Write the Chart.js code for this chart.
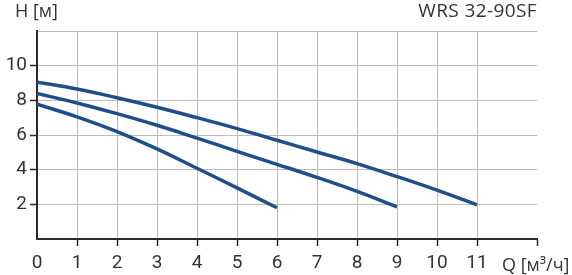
<!DOCTYPE html>
<html>
<head>
<meta charset="utf-8">
<script src="https://cdn.jsdelivr.net/npm/chart.js@4/dist/chart.umd.min.js"></script>
<style>
  html, body { margin: 0; padding: 0; background: #fff; }
  #wrap { width: 572px; height: 275px; }
</style>
</head>
<body>
<div id="wrap"><canvas id="pump-chart" width="572" height="275"></canvas></div>
<script>
// pump curves
const flow_top = [0, 1, 2, 3, 4, 5, 6, 7, 8, 9, 10, 11];
const head_top = [9.05, 8.65, 8.15, 7.6, 7.0, 6.37, 5.7, 5.02, 4.35, 3.6, 2.82, 1.97];
const flow_mid = [0, 1, 2, 3, 4, 5, 6, 7, 8, 9];
const head_mid = [8.4, 7.85, 7.23, 6.56, 5.82, 5.06, 4.31, 3.55, 2.75, 1.86];
const flow_low = [0, 1, 2, 3, 4, 5, 6];
const head_low = [7.78, 7.05, 6.2, 5.2, 4.08, 2.95, 1.8];

const x_ticks = [0, 1, 2, 3, 4, 5, 6, 7, 8, 9, 10, 11, 12.5];
const x_labels = ['0', '1', '2', '3', '4', '5', '6', '7', '8', '9', '10', '11', ''];
const y_ticks = [0, 2, 4, 6, 8, 10, 12];
const y_labels = ['', '2', '4', '6', '8', '10', ''];

const title_txt = 'WRS 32-90SF';
const y_title = 'H [м]';
const x_title = 'Q [м³/ч]';

const line_col = '#1f4e8a';
const axis_col = '#2b2b2b';

function pts(xs, ys) {
    return xs.map((x, i) => ({ x: x, y: ys[i] }));
}

function curve(xs, ys) {
    return {
        data: pts(xs, ys),
        showLine: true,
        borderColor: line_col,
        borderWidth: 3.5,
        pointRadius: 0,
        tension: 0.4,
        fill: false,
    };
}

// extra texts: model name, axis names
const texts = {
    id: 'texts',
    afterDraw(chart) {
        let ctx = chart.ctx;
        ctx.save();
        ctx.fillStyle = '#333';
        ctx.textBaseline = 'alphabetic';
        ctx.font = '19px "Open Sans"';
        ctx.letterSpacing = '0.4px';
        ctx.textAlign = 'right';
        ctx.fillText(title_txt, 537, 17);
        ctx.letterSpacing = '0px';
        ctx.textAlign = 'left';
        ctx.font = '18px "Open Sans"';
        ctx.fillText(y_title, 15, 17);
        ctx.fillText(x_title, 502, 271);
        ctx.restore();
    }
};

var ctx = document.getElementById('pump-chart');
var chart = new Chart(ctx, {
    type: 'scatter',
    data: {
        datasets: [
            curve(flow_top, head_top),
            curve(flow_mid, head_mid),
            curve(flow_low, head_low),
        ],
    },
    options: {
        responsive: false,
        animation: false,
        layout: { padding: { top: 31, right: 35, left: 0, bottom: 0 } },
        scales: {
            x: {
                type: 'linear',
                min: 0,
                max: 12.5,
                afterBuildTicks: (s) => { s.ticks = x_ticks.map(v => ({ value: v })); },
                afterFit: (s) => { s.height = 36; },
                border: { display: true, color: axis_col, width: 2 },
                grid: {
                    color: (c) => (c.tick && c.tick.value > 0 && c.tick.value < 12.5) ? '#bdbdbd' : 'rgba(0,0,0,0)',
                    lineWidth: 1,
                    borderDash: [2, 2],
                    drawTicks: true,
                    tickLength: 7,
                    tickColor: (c) => (c.tick && c.tick.value > 0) ? axis_col : 'rgba(0,0,0,0)',
                    tickWidth: 1.5,
                    tickBorderDash: [],
                },
                ticks: {
                    autoSkip: false,
                    maxRotation: 0,
                    padding: 6,
                    color: '#333',
                    font: { family: 'Roboto', size: 19 },
                    callback: (v, i) => x_labels[i],
                },
            },
            y: {
                type: 'linear',
                min: 0,
                max: 12,
                afterBuildTicks: (s) => { s.ticks = y_ticks.map(v => ({ value: v })); },
                afterFit: (s) => { s.width = 37; },
                border: { display: true, color: axis_col, width: 2 },
                grid: {
                    color: (c) => (c.tick && c.tick.value > 0) ? '#bdbdbd' : 'rgba(0,0,0,0)',
                    lineWidth: 1,
                    borderDash: [2, 2],
                    drawTicks: true,
                    tickLength: 7,
                    tickColor: (c) => (c.tick && c.tick.value > 0 && c.tick.value < 12) ? axis_col : 'rgba(0,0,0,0)',
                    tickWidth: 1.5,
                    tickBorderDash: [],
                },
                ticks: {
                    autoSkip: false,
                    padding: 3,
                    color: '#333',
                    font: { family: 'Roboto', size: 19 },
                    callback: (v, i) => y_labels[i],
                },
            },
        },
        plugins: {
            legend: { display: false },
            tooltip: { enabled: false },
            title: { display: false },
        },
    },
    plugins: [texts],
});
</script>
</body>
</html>
